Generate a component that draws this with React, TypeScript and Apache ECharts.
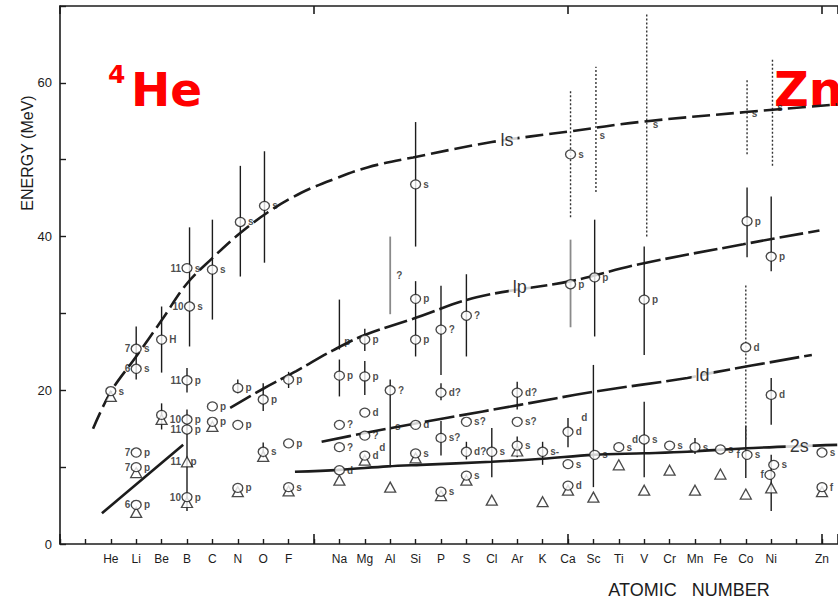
import React, { useEffect, useRef } from "react";
import * as echarts from "echarts";

// Element symbols indexed by atomic number (blank where the original has no label)
const elementLabels = ["", "", "He", "Li", "Be", "B", "C", "N", "O", "F", "", "Na", "Mg", "Al", "Si", "P", "S", "Cl", "Ar", "K", "Ca", "Sc", "Ti", "V", "Cr", "Mn", "Fe", "Co", "Ni", "", "Zn"];
const energyLabels = [0, 20, 40, 60];

// Open circles: [Z, energy, tag]
const circles: [number, number, string][] = [
  [2, 19.9, "s"],
  [3, 25.4, "s"], [3, 22.8, "s"], [3, 11.9, "p"], [3, 10.0, "p"], [3, 5.1, "p"],
  [4, 26.6, "H"], [4, 16.8, ""],
  [5, 35.9, "s"], [5.1, 30.9, "s"], [5, 21.3, "p"], [5, 16.2, "p"], [5, 14.9, "p"], [5, 6.1, "p"],
  [6, 35.7, "s"], [6, 17.9, "p"], [6, 15.9, "p"],
  [7.1, 41.9, "s"], [7, 20.3, "p"], [7, 15.5, "p"], [7, 7.3, "p"],
  [8.05, 44.0, "s"], [8, 18.8, "p"], [8, 12.0, "s"],
  [9, 21.4, "p"], [9, 13.1, "p"], [9, 7.4, "s"],
  [11, 21.9, "p"], [11, 15.5, "?"], [11, 12.6, "?"], [11, 9.6, "d"],
  [12, 26.6, "p"], [12, 21.8, "p"], [12, 17.1, "d"], [12, 14.1, "?"], [12, 11.5, "d"],
  [13, 20.0, "?"],
  [14, 46.8, "s"], [14, 31.9, "p"], [14, 26.6, "p"], [14, 15.5, "d"], [14, 11.8, "s"],
  [15, 27.9, "?"], [15, 19.7, "d?"], [15, 13.8, "s?"], [15, 6.8, "s"],
  [16, 29.7, "?"], [16, 15.9, "s?"], [16, 12.0, "d?"], [16, 8.9, "s"],
  [17, 12.0, "s"],
  [18, 19.7, "d?"], [18, 15.9, "s?"], [18, 12.8, "s"],
  [19, 12.0, "s-"],
  [20.1, 50.7, "s"], [20.1, 33.8, "p"], [20, 14.6, "d"], [20, 10.4, "s"], [20, 7.6, "d"],
  [21.05, 34.7, "p"], [21.05, 11.6, "s"],
  [22, 12.6, "s"],
  [23, 31.8, "p"], [23, 13.6, "s"],
  [24, 12.8, "s"],
  [25, 12.6, "s"],
  [26, 12.3, "s"],
  [27.05, 42.0, "p"], [27, 25.6, "d"], [27.05, 11.6, "s"],
  [28, 37.4, "p"], [28, 19.4, "d"], [28.1, 10.3, "s"], [27.95, 9.0, ""],
  [30, 11.9, "s"], [30, 7.4, "f"],
];

// Open triangles: [Z, energy]
const triangles: [number, number][] = [
  [2, 19.2], [3, 9.3], [3, 4.1], [4, 16.2], [5, 10.7], [5, 5.4], [6, 15.3], [7, 6.8], [8, 11.4], [9, 6.9],
  [11, 8.3], [12, 10.9], [13, 7.4], [14, 11.2], [15, 6.3], [16, 8.3], [17, 5.7], [18, 12.1], [19, 5.5],
  [20, 7.0], [21, 6.1], [22, 10.3], [23, 7.0], [24, 9.6], [25, 7.0], [26, 9.1], [27, 6.5], [28, 7.3], [30, 6.8],
];

// Tags without a marker: [Z, energy, tag]
const bareTags: [number, number, string][] = [
  [11.05, 26.3, "p"], [13.1, 35.0, "?"], [13.05, 15.3, "s"], [5, 10.7, "p"],
  [21.1, 53.2, "s"], [23.2, 54.6, "s"], [27.1, 56.0, "s"], [28.1, 56.8, "s"],
];

// Tags to the left of a marker (isotope masses etc.): [Z, energy, tag]
const leftTags: [number, number, string][] = [
  [3, 25.4, "7"], [3, 22.8, "6"], [3, 11.9, "7"], [3, 10.0, "7"], [3, 5.1, "6"],
  [5, 35.9, "11"], [5.1, 30.9, "10"], [5, 21.3, "11"], [5, 16.2, "10"], [5, 14.9, "11"], [5, 10.7, "11"], [5, 6.1, "10"],
  [13.05, 12.6, "d"], [21, 16.4, "d"], [23, 13.6, "d"], [27, 11.6, "f"], [27.95, 9.0, "f"],
];

// Error bars: [Z, low, high]
const solidBars: [number, number, number][] = [
  [3, 21.4, 28.3], [4, 22.3, 30.9], [4, 14.9, 18.3],
  [5.1, 25.7, 41.2], [5, 19.7, 22.9], [5, 4.3, 17.5],
  [6, 29.2, 42.2], [7.1, 34.8, 49.2], [7, 19.6, 21.4],
  [8.05, 36.6, 51.1], [8, 17.3, 20.9], [8, 11.2, 13.2], [9, 20.3, 22.4],
  [11, 25.3, 31.8], [11, 19.2, 24.0], [12, 25.1, 28.0], [12, 19.4, 23.8],
  [13, 10.0, 21.4], [14, 38.7, 54.9], [14, 24.4, 34.2],
  [15, 22.0, 33.6], [15, 18.7, 20.9], [15, 11.5, 16.0],
  [16, 24.4, 35.1], [16, 11.0, 13.3], [17, 8.7, 15.1],
  [18, 17.5, 21.1], [18, 11.3, 14.0], [19, 10.3, 13.3],
  [20, 12.6, 16.4], [21.05, 27.0, 42.2], [21, 7.4, 23.3],
  [23, 24.6, 38.7], [23, 8.7, 18.5], [25, 11.7, 13.8],
  [27.05, 37.3, 46.4], [27, 8.6, 15.4], [28, 35.5, 45.2], [28, 15.5, 21.6], [28, 4.3, 11.6],
];
const grayBars: [number, number, number][] = [
  [13, 29.9, 40.0], [20.1, 28.2, 39.6],
];
const dottedBars: [number, number, number][] = [
  [20.1, 42.5, 58.9], [21.1, 45.8, 62.1], [23.1, 40.0, 69.1], [27.05, 50.7, 60.5], [27, 13.6, 33.8], [28.05, 49.2, 63.1],
];

// Shell-energy curves: [Z, energy]
const curve1s: [number, number][] = [
  [1.3, 15.0], [2.0, 19.8], [3.0, 24.4], [4.0, 29.1], [5.0, 33.9], [6.0, 37.2], [7.0, 40.2], [8.2, 43.2],
  [9.5, 45.7], [10.8, 47.5], [12.1, 49.0], [13.9, 50.3], [17.0, 52.3], [20.1, 53.7], [22.8, 54.9], [27.0, 56.2], [30.6, 57.2],
];
const curve1pLow: [number, number][] = [[1.65, 4.0], [4.85, 12.9]];
const curve1pHigh: [number, number][] = [
  [6.7, 17.7], [8.0, 20.2], [9.3, 22.5], [10.75, 25.2], [12.0, 27.2], [13.9, 29.3], [16.4, 32.1],
  [20.1, 34.2], [22.8, 36.4], [26.9, 39.0], [29.9, 40.8],
];
const curve1d: [number, number][] = [
  [10.3, 13.3], [12.1, 14.5], [14.2, 15.8], [15.2, 16.4], [18.1, 18.1], [21.0, 19.8], [24.7, 21.6], [25.7, 22.3], [29.6, 24.6],
];
const curve2s: [number, number][] = [
  [9.25, 9.4], [11.0, 9.65], [12.9, 10.1], [14.2, 10.3], [17.0, 10.7], [19.0, 11.1], [21.0, 11.6], [23.0, 11.8],
  [24.7, 12.0], [27.3, 12.5], [30.6, 12.9],
];
const curveNames: [number, number, string][] = [
  [17.6, 52.6, "ls"], [18.1, 33.4, "lp"], [25.3, 22.0, "ld"], [29.1, 12.7, "2s"],
];

const INK = "#1c1c1c";
const FONT = "Liberation Sans";

function barSeries(data: [number, number, number][], color: string, dash: number[] | null, width: number) {
  return {
    type: "custom",
    data,
    encode: { x: 0, y: [1, 2] },
    renderItem: (_p: any, api: any) => {
      const a = api.coord([api.value(0), api.value(1)]);
      const b = api.coord([api.value(0), api.value(2)]);
      return {
        type: "line",
        shape: { x1: a[0], y1: a[1], x2: b[0], y2: b[1] },
        style: { stroke: color, lineWidth: width, lineDash: dash || undefined },
      };
    },
    z: 2,
  };
}

function curveSeries(data: [number, number][], dash: number[] | "solid") {
  return {
    type: "line",
    data,
    smooth: 0.35,
    showSymbol: false,
    lineStyle: { color: INK, width: 2.6, type: dash },
    z: 3,
  };
}

export default function App() {
  const ref = useRef<HTMLDivElement>(null);
  useEffect(() => {
    if (!ref.current) return;
    const chart = echarts.init(ref.current, null, { renderer: "svg" });
    const option: any = {
      animation: false,
      backgroundColor: "#ffffff",
      textStyle: { fontFamily: FONT },
      grid: { left: 60, right: 0, top: 6, bottom: 56 },
      xAxis: [
        {
          type: "value", min: 0, max: 30.63, interval: 1, position: "bottom",
          axisLine: { show: true, lineStyle: { color: INK, width: 1.6 } },
          axisTick: { show: true, inside: true, length: 5, lineStyle: { color: INK, width: 1.4 } },
          axisLabel: {
            color: INK, fontSize: 12, margin: 9, fontFamily: FONT,
            formatter: (v: number) => (Number.isInteger(v) ? elementLabels[v] || "" : ""),
            showMaxLabel: false,
          },
          splitLine: { show: false },
        },
        {
          type: "value", min: 0, max: 30.63, interval: 10, position: "bottom", offset: 0,
          axisLine: { show: false },
          axisTick: { show: true, inside: true, length: 10, lineStyle: { color: INK, width: 1.6 } },
          axisLabel: { show: false }, splitLine: { show: false },
        },
        {
          type: "value", min: 0, max: 30.63, interval: 10, position: "top",
          axisLine: { show: true, lineStyle: { color: INK, width: 1.6 } },
          axisTick: { show: true, inside: true, length: 8, lineStyle: { color: INK, width: 1.6 } },
          axisLabel: { show: false }, splitLine: { show: false },
        },
      ],
      yAxis: {
        type: "value", min: 0, max: 70, interval: 10,
        axisLine: { show: true, lineStyle: { color: INK, width: 1.6 } },
        axisTick: { show: true, inside: true, length: 6, lineStyle: { color: INK, width: 1.4 } },
        axisLabel: {
          color: INK, fontSize: 13, margin: 8, fontFamily: FONT,
          formatter: (v: number) => (energyLabels.includes(v) ? String(v) : ""),
        },
        splitLine: { show: false },
      },
      series: [
        barSeries(grayBars, "#8a8a8a", null, 1.8),
        barSeries(solidBars, INK, null, 1.4),
        barSeries(dottedBars, "#333", [2, 2], 1.4),
        curveSeries(curve1s, [18, 6]),
        curveSeries(curve1pLow, "solid"),
        curveSeries(curve1pHigh, [24, 5]),
        curveSeries(curve1d, [30, 5]),
        curveSeries(curve2s, "solid"),
        {
          type: "scatter", data: triangles, symbol: "triangle", symbolSize: [11, 10],
          itemStyle: { color: "#fff", borderColor: INK, borderWidth: 1.3 }, z: 4,
        },
        {
          type: "scatter", data: circles, symbol: "circle", symbolSize: [10, 9],
          itemStyle: { color: "#fff", borderColor: INK, borderWidth: 1.3 }, z: 5,
          label: {
            show: true, position: "right", distance: 2, fontSize: 10, color: INK, fontWeight: "bold",
            formatter: (p: any) => p.data[2],
          },
        },
        {
          type: "scatter", data: bareTags, symbolSize: 1, itemStyle: { color: "transparent" }, z: 6,
          label: {
            show: true, position: "right", distance: 3, fontSize: 10, color: INK, fontWeight: "bold",
            formatter: (p: any) => p.data[2],
          },
        },
        {
          type: "scatter", data: leftTags, symbolSize: 10, itemStyle: { color: "transparent" }, z: 6,
          label: {
            show: true, position: "left", distance: 1, fontSize: 10, color: INK, fontWeight: "bold",
            formatter: (p: any) => p.data[2],
          },
        },
        {
          type: "scatter", data: curveNames, symbolSize: 1, itemStyle: { color: "transparent" }, z: 7,
          label: {
            show: true, position: "inside", fontSize: 18, color: "#000", backgroundColor: "#fff",
            padding: [0, 4], formatter: (p: any) => p.data[2],
          },
        },
      ],
      graphic: [
        { type: "text", x: 689, y: 590, style: { text: "ATOMIC   NUMBER", fill: INK, font: `18px "${FONT}"`, align: "center", verticalAlign: "middle" } },
        { type: "text", x: 27, y: 153, rotation: Math.PI / 2, style: { text: "ENERGY (MeV)", fill: INK, font: `16px "${FONT}"`, align: "center", verticalAlign: "middle" } },
        { type: "text", x: 108, y: 74, style: { text: "4", fill: "#ff0000", font: `bold 25px "DejaVu Sans"`, align: "left", verticalAlign: "middle" } },
        { type: "text", x: 131, y: 89, style: { text: "He", fill: "#ff0000", font: `bold 47px "DejaVu Sans"`, align: "left", verticalAlign: "middle" } },
        { type: "text", x: 774, y: 89, style: { text: "Zn", fill: "#ff0000", font: `bold 48px "DejaVu Sans"`, align: "left", verticalAlign: "middle" } },
      ],
    };
    chart.setOption(option);
    return () => chart.dispose();
  }, []);
  return (
    <div
      ref={ref}
      style={{ position: "absolute", left: 0, top: 0, width: 838, height: 600, background: "#fff" }}
    />
  );
}
